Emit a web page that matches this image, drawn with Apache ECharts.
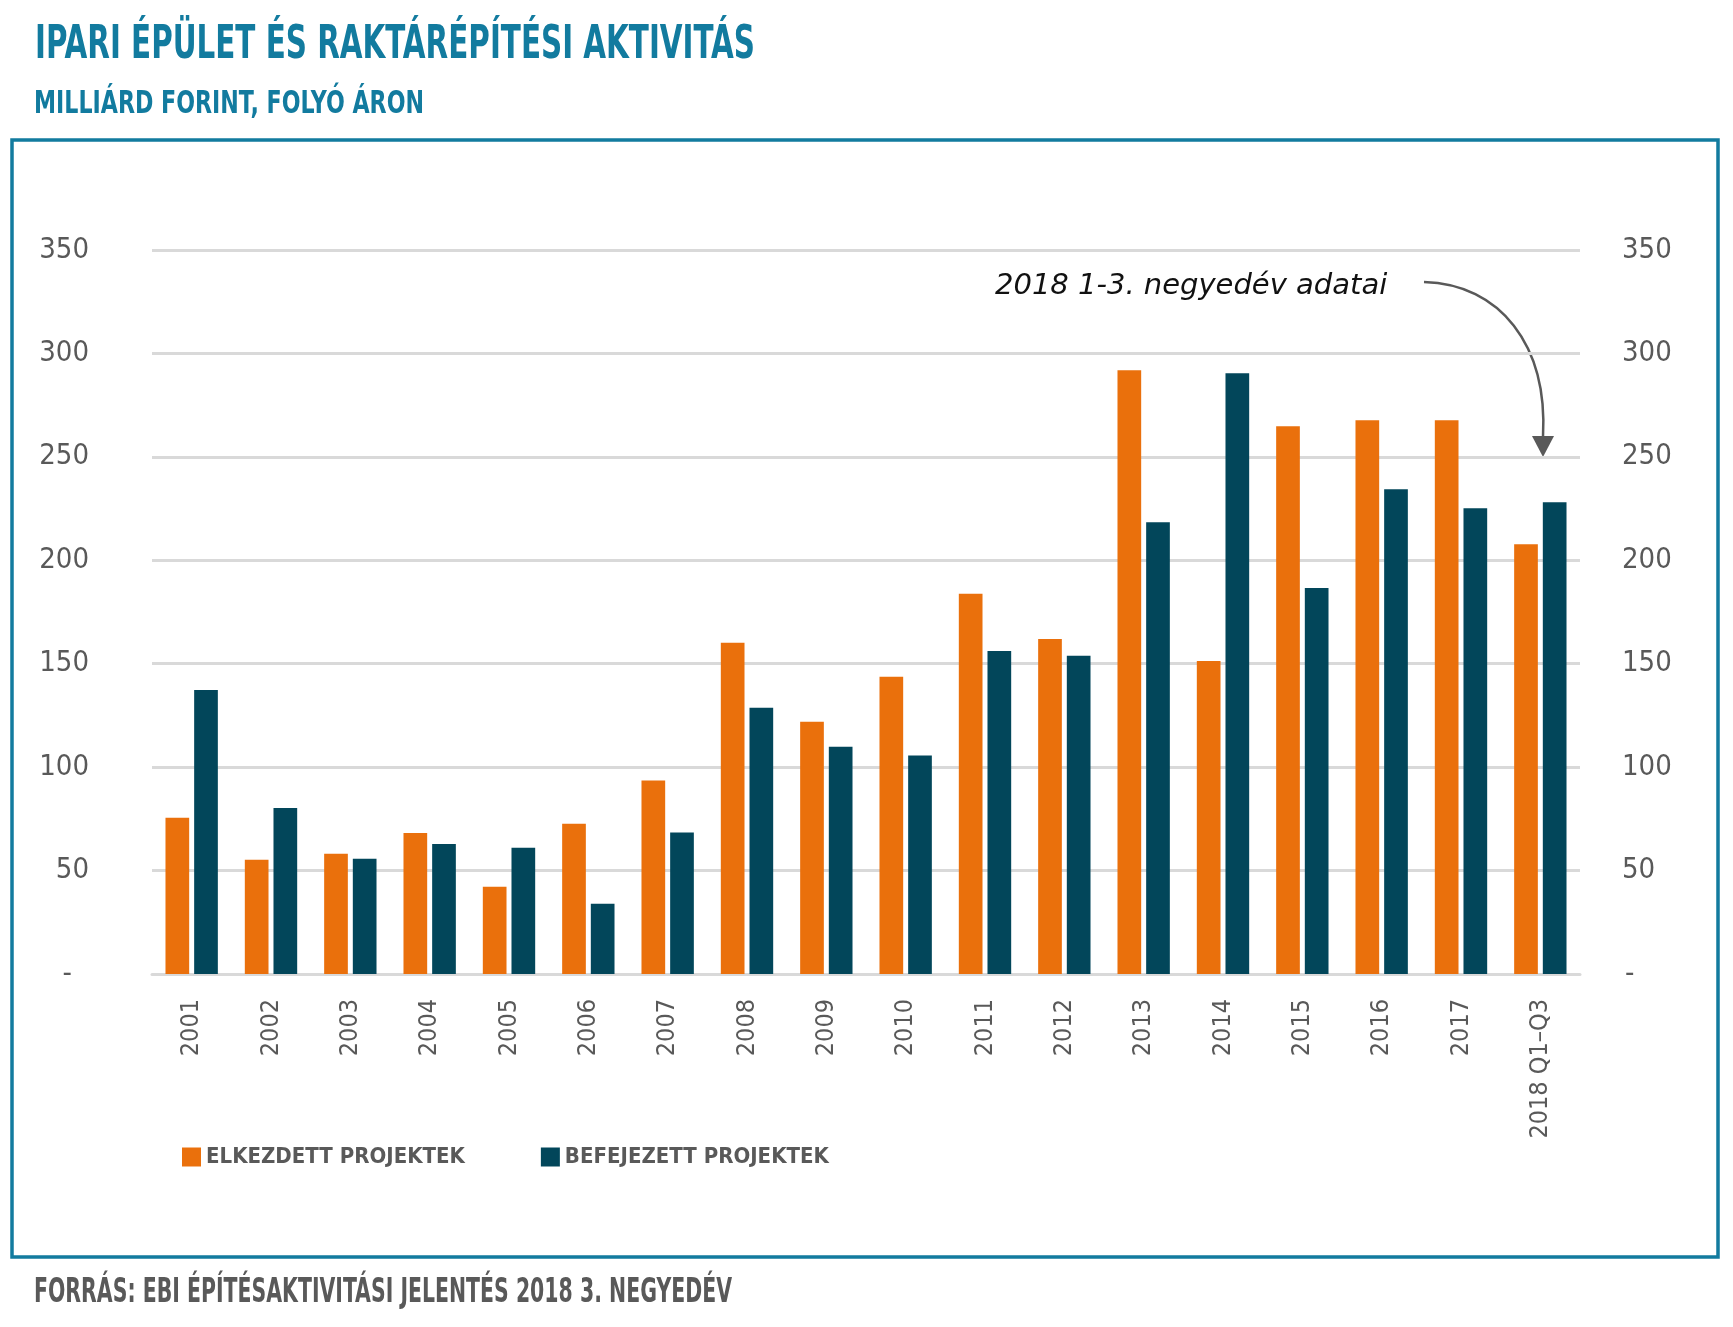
<!DOCTYPE html>
<html>
<head>
<meta charset="utf-8">
<title>Ipari épület és raktárépítési aktivitás</title>
<script src="https://cdn.jsdelivr.net/npm/echarts@6/dist/echarts.min.js"></script>
<style>
    html, body {margin: 0; padding: 0; background: #fff;}
    #chartmain {width: 1733px; height: 1327px;}
</style>
</head>
<body>
<div id="chartmain"></div>
<script>
//数据
var years = ['2001', '2002', '2003', '2004', '2005', '2006', '2007', '2008', '2009', '2010',
    '2011', '2012', '2013', '2014', '2015', '2016', '2017', '2018 Q1–Q3'];
var elkezdett = [75.5, 55.2, 58.1, 68.2, 42.2, 72.6, 93.5, 160.1, 122.0, 143.7,
    183.8, 162.0, 291.9, 151.3, 264.8, 267.7, 267.7, 207.8];
var befejezett = [137.3, 80.3, 55.7, 62.9, 61.0, 34.0, 68.4, 128.7, 109.9, 105.6,
    156.2, 153.8, 218.4, 290.4, 186.6, 234.4, 225.2, 228.1];
var seriesNames = ['ELKEZDETT PROJEKTEK', 'BEFEJEZETT PROJEKTEK'];

var narrow = "'DejaVu Sans Condensed', 'Roboto', sans-serif";
var blue = '#127B9F';
var gray = '#595959';

function yLabel(value) {
    if (value === 0) return '{dash|-}';
    return value;
}

// 标题文字压窄：按目标宽度算 scaleX
var measureCtx = document.createElement('canvas').getContext('2d');
function squeezedText(text, x, y, size, width, color) {
    measureCtx.font = 'bold ' + size + 'px ' + narrow;
    var w = measureCtx.measureText(text).width;
    return {
        type: 'text', x: x, y: y, scaleX: width / w,
        style: {
            text: text, fill: color, fontFamily: narrow, fontWeight: 'bold',
            fontSize: size, verticalAlign: 'top'
        }
    };
}

var myChart = echarts.init(document.getElementById('chartmain'));
myChart.setOption({
    animation: false,
    backgroundColor: '#fff',
    legend: {
        left: 177, top: 1141,
        itemWidth: 19, itemHeight: 19, itemGap: 76,
        icon: 'rect',
        data: seriesNames,
        textStyle: {color: gray, fontFamily: narrow, fontWeight: 'bold', fontSize: 22}
    },
    grid: {left: 152, right: 153, top: 250, bottom: 353},
    xAxis: {
        type: 'category',
        data: years,
        axisTick: {show: false},
        axisLine: {lineStyle: {color: '#D9D9D9', width: 3}},
        axisLabel: {
            rotate: 90, margin: 25, interval: 0,
            color: gray, fontFamily: narrow, fontSize: 25
        }
    },
    yAxis: [{
        type: 'value', min: 0, max: 350, interval: 50,
        axisLine: {show: false}, axisTick: {show: false},
        splitLine: {lineStyle: {color: '#D9D9D9', width: 3}},
        axisLabel: {
            margin: 63, color: gray, fontFamily: narrow, fontSize: 29,
            formatter: yLabel,
            rich: {dash: {fontFamily: narrow, fontSize: 29, color: gray, padding: [0, 17, 0, 0]}}
        }
    }, {
        type: 'value', min: 0, max: 350, interval: 50,
        axisLine: {show: false}, axisTick: {show: false},
        splitLine: {show: false},
        axisLabel: {
            margin: 42, color: gray, fontFamily: narrow, fontSize: 29,
            formatter: yLabel,
            rich: {dash: {fontFamily: narrow, fontSize: 29, color: gray, padding: [0, 0, 0, 3]}}
        }
    }],
    series: [{
        name: seriesNames[0],
        type: 'bar',
        data: elkezdett,
        itemStyle: {color: '#EA700C'},
        barGap: '21%',
        barCategoryGap: '34%'
    }, {
        name: seriesNames[1],
        type: 'bar',
        data: befejezett,
        itemStyle: {color: '#02465A'}
    }],
    graphic: [
        squeezedText('IPARI ÉPÜLET ÉS RAKTÁRÉPÍTÉSI AKTIVITÁS', 35, 22, 47, 720, blue),
        squeezedText('MILLIÁRD FORINT, FOLYÓ ÁRON', 34, 89, 32, 390, blue),
        squeezedText('FORRÁS: EBI ÉPÍTÉSAKTIVITÁSI JELENTÉS 2018 3. NEGYEDÉV', 34, 1277, 33, 698, gray),
        {
            // keret
            type: 'rect', z: -1,
            shape: {x: 12, y: 140, width: 1706, height: 1117},
            style: {fill: 'none', stroke: blue, lineWidth: 3.5}
        }, {
            type: 'text',
            x: 995, y: 286,
            style: {
                text: '2018 1-3. negyedév adatai', verticalAlign: 'middle',
                fill: '#111', fontFamily: "'DejaVu Sans'", fontStyle: 'italic', fontSize: 29
            }
        }, {
            type: 'bezierCurve',
            shape: {x1: 1424, y1: 282, cpx1: 1500, cpy1: 284, cpx2: 1548, cpy2: 345, x2: 1543, y2: 437},
            style: {stroke: gray, lineWidth: 2.5, fill: 'none'}
        }, {
            type: 'polygon',
            shape: {points: [[1532, 436], [1554, 436], [1543, 457]]},
            style: {fill: gray}
        }
    ]
});
</script>
</body>
</html>
